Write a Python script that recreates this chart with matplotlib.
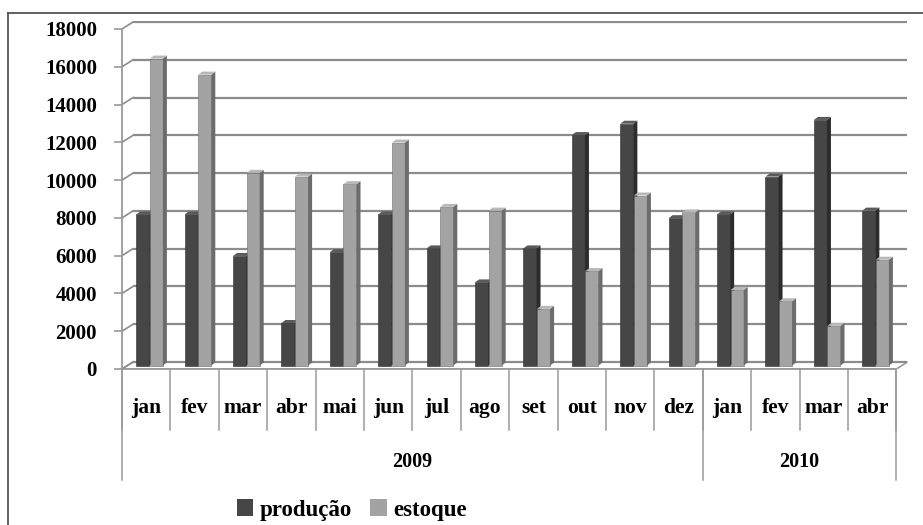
import matplotlib.pyplot as plt
from matplotlib.patches import Polygon, Patch
from matplotlib.lines import Line2D

meses = ['jan', 'fev', 'mar', 'abr', 'mai', 'jun', 'jul', 'ago', 'set', 'out', 'nov', 'dez',
         'jan', 'fev', 'mar', 'abr']
anos = ['2009', '2010']
meses_por_ano = [12, 4]
producao = [8000, 8000, 5800, 2250, 6000, 8000, 6200, 4400, 6200, 12200, 12800, 7800,
            8000, 10000, 13000, 8200]
estoque = [16250, 15400, 10200, 10000, 9600, 11800, 8400, 8200, 3000, 5000, 9000, 8100,
           4000, 3400, 2100, 5600]

W, H = 923, 525
fig = plt.figure(figsize=(W / 100, H / 100), dpi=100, facecolor='w')

# pixel geometry
px_cat = 48.4          # px per category
px_val = 18000 / 340   # value units per px
dx = 11 / px_cat       # back wall offset (x)
dy = 7 * px_val        # back wall offset (y)
n = len(meses)
xmax = n + dx + 0.03
ymax = 18000 + dy + 60

ax = fig.add_axes([122 / W, (H - 369) / H, xmax * px_cat / W, (ymax / px_val) / H])
ax.set_xlim(0, xmax)
ax.set_ylim(0, ymax)
for s in ['top', 'right', 'bottom']:
    ax.spines[s].set_visible(False)
ax.spines['left'].set_color('#9a9a9a')
ax.spines['left'].set_bounds(0, 18000)
ax.spines['left'].set_linewidth(1.3)

serif = dict(family='Liberation Serif', weight='bold')
grid_c = '#8c8c8c'

# floor
floor = Polygon([(0, 0), (n, 0), (n + dx, dy), (dx, dy)], closed=True,
                facecolor='white', edgecolor='#9a9a9a', lw=1.2, zorder=1)
ax.add_patch(floor)

# gridlines on the back wall
for v in range(0, 18001, 2000):
    ax.plot([dx, n + dx], [v + dy, v + dy], color=grid_c, lw=1.6, zorder=1, solid_capstyle='butt')
    ax.plot([0, dx], [v, v + dy], color=grid_c, lw=1.2, zorder=1)

ax.set_xticks([])
ax.set_yticks(range(0, 18001, 2000))
ax.set_yticklabels([str(v) for v in range(0, 18001, 2000)], fontsize=15, **serif)
ax.tick_params(axis='y', direction='out', length=6, width=1.2, color='#9a9a9a', pad=12)

# bars with pseudo 3D faces
w = 0.27
sd = 4 / px_cat
sv = 3 * px_val
base = dy / 2
series = [(producao, 0.43, '#464646', '#2c2c2c', '#5a5a5a'),
          (estoque, 0.71, '#a3a3a3', '#6c6c6c', '#b8b8b8')]
for vals, off, c_front, c_side, c_top in series:
    xs = [i + off for i in range(n)]
    ax.bar(xs, vals, width=w, bottom=base, color=c_front, edgecolor=c_side, lw=0.4, zorder=3)
    for x, v in zip(xs, vals):
        top = v + base
        r = x + w / 2
        l = x - w / 2
        ax.add_patch(Polygon([(r, base), (r + sd, base + sv), (r + sd, top + sv), (r, top)],
                             closed=True, facecolor=c_side, edgecolor='none', zorder=3))
        ax.add_patch(Polygon([(l, top), (r, top), (r + sd, top + sv), (l + sd, top + sv)],
                             closed=True, facecolor=c_top, edgecolor='none', zorder=3))

# category axis (months and years)
ax.plot([0, n], [0, 0], color='#9a9a9a', lw=1.3, clip_on=False, zorder=2)
y_mes_sep = -61 * px_val
y_ano_sep = -111 * px_val
for i in range(n + 1):
    ax.plot([i, i], [0, y_mes_sep], color='#9a9a9a', lw=1.1, clip_on=False)
for i, m in enumerate(meses):
    ax.text(i + 0.5, -39 * px_val, m, ha='center', va='center', fontsize=15.5, **serif)

pos = 0
for ano, k in zip(anos, meses_por_ano):
    ax.plot([pos, pos], [0, y_ano_sep], color='#9a9a9a', lw=1.1, clip_on=False)
    ax.text(pos + k / 2, -93 * px_val, ano, ha='center', va='center', fontsize=14.5, **serif)
    pos += k
ax.plot([pos, pos], [0, y_ano_sep], color='#9a9a9a', lw=1.1, clip_on=False)

# legend
handles = [Patch(facecolor='#464646', label='produção'),
           Patch(facecolor='#a3a3a3', label='estoque')]
fig.legend(handles=handles, loc='center', bbox_to_anchor=(352 / W, 1 - 510 / H), ncol=2,
           frameon=False, prop=dict(family='Liberation Serif', weight='bold', size=16.5),
           handlelength=0.7, handleheight=0.7, handletextpad=0.3, columnspacing=0.8)

# outer border (top and left)
fig.add_artist(Line2D([8 / W, 1], [1 - 13 / H, 1 - 13 / H], color='#555555', lw=1.3))
fig.add_artist(Line2D([8 / W, 8 / W], [0, 1 - 13 / H], color='#555555', lw=1.3))

plt.savefig('out.png', dpi=100, facecolor='w')
